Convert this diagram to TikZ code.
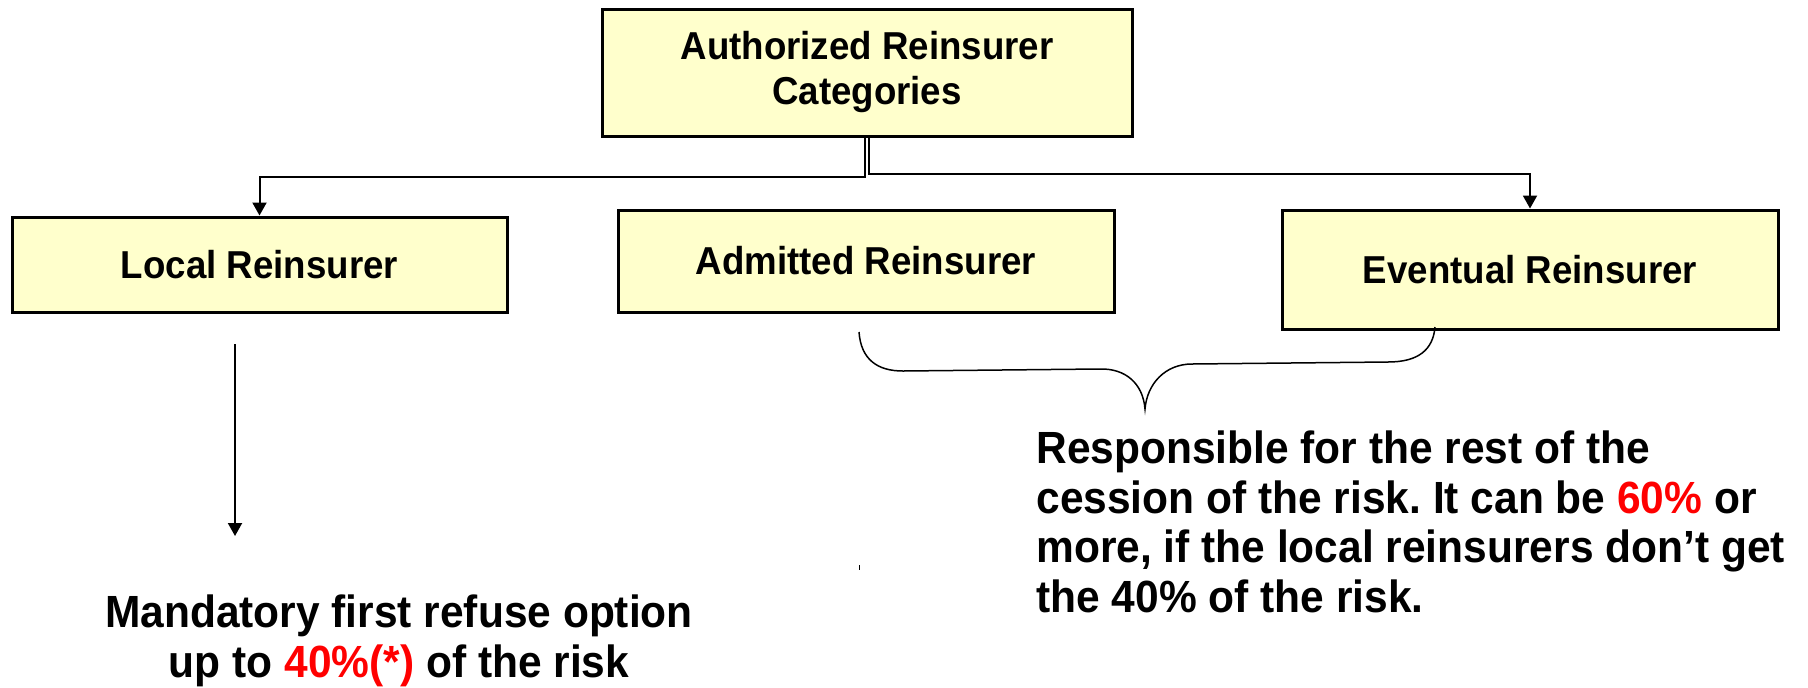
\documentclass[tikz,border=0pt]{standalone}
\usepackage{fontspec}
\setmainfont{Liberation Sans}
\usepackage{graphicx}
\usetikzlibrary{arrows.meta}
\definecolor{boxfill}{RGB}{255,255,204}
\definecolor{hl}{RGB}{255,0,0}
\newcommand\sx[1]{\scalebox{0.97}[1.03]{#1}}
\frenchspacing
\begin{document}
\begin{tikzpicture}[x=0.5pt,y=-0.5pt,
  box/.style={draw=black, line width=1.5pt, fill=boxfill, inner sep=0pt,
    font=\bfseries\fontsize{18.9}{22.5}\selectfont, align=center},
  conn/.style={line width=1pt, -{Triangle[length=6.5pt,width=7pt]}},
  body/.style={font=\bfseries\fontsize{21.9}{25}\selectfont, inner sep=0pt},
  brace/.style={line width=0.75pt}]
\useasboundingbox (0,0) rectangle (1808,687);
\fill[white] (0,0) rectangle (1808,687);

\node[box, minimum width=265pt, minimum height=63.5pt] (top) at (867,72.5)
  {\sx{Authorized Reinsurer}\\\sx{Categories}};
\node[box, minimum width=247.5pt, minimum height=47.5pt] (local) at (259.5,264.5)
  {\sx{Local Reinsurer}};
\node[box, minimum width=248pt, minimum height=51pt] (admit) at (866,261)
  {\sx{Admitted Reinsurer}};
\node[box, minimum width=248pt, minimum height=59.5pt] (event) at (1530,269.5)
  {\sx{Eventual Reinsurer}};

\draw[conn] ([xshift=-1pt]top.south) -- ++(0,39) -| (local.north);
\draw[conn] ([xshift=1pt]top.south) -- ++(0,36) -| (event.north);

\coordinate (la) at (235,344);
\coordinate (lb) at (235,536);
\draw[conn] (la) -- (lb);

\draw[brace] (859,332) .. controls (861,360) and (878,371) .. (903,371)
  -- (1099,369) .. controls (1126,368) and (1143,384) .. (1145,409)
  .. controls (1147,384) and (1165,364) .. (1192,364)
  -- (1388,362) .. controls (1418,362) and (1433,350) .. (1435,327);

\draw[line width=0.5pt] (859,565) -- (859,570);

\node[body, anchor=base] (m1) at (399,627) {\sx{Mandatory first refuse option}};
\node[body, anchor=base] (m2) at (399,677) {\sx{up to \textcolor{hl}{40\%(*)} of the risk}};

\node[body, anchor=base west] (r1) at (1036,463) {\sx{Responsible for the rest of the}};
\node[body, anchor=base west] (r2) at (1036,513) {\sx{cession of the risk. It can be \textcolor{hl}{60\%} or}};
\node[body, anchor=base west] (r3) at (1036,562) {\sx{more, if the local reinsurers don’t get}};
\node[body, anchor=base west] (r4) at (1036,612) {\sx{the 40\% of the risk.}};
\end{tikzpicture}
\end{document}
